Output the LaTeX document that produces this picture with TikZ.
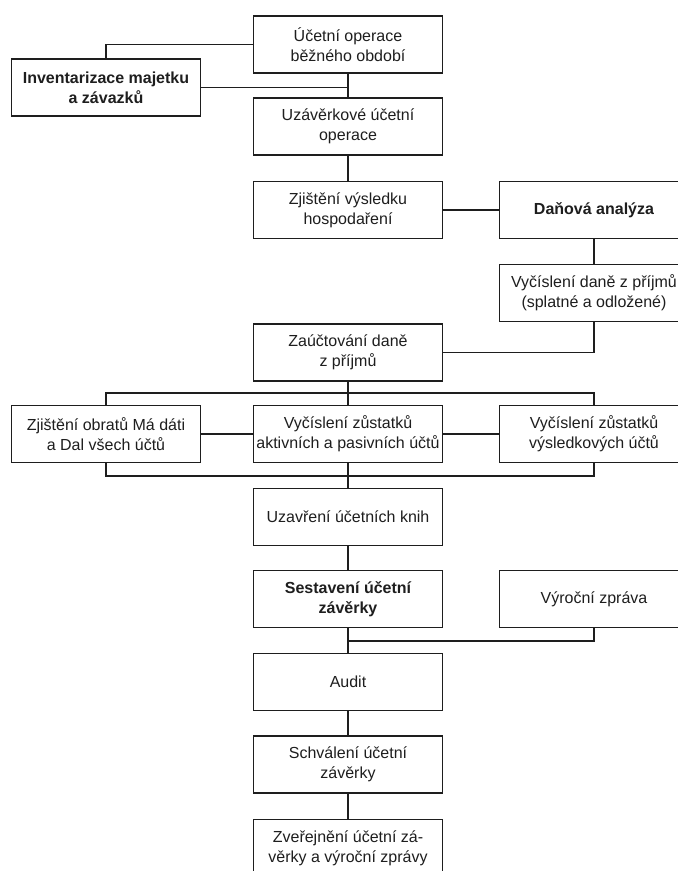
\documentclass[tikz,border=0pt]{standalone}
\usepackage{fontspec}
\setmainfont{Liberation Sans}
\definecolor{ink}{HTML}{1E1E1E}
\begin{document}
\begin{tikzpicture}[x=1pt,y=-1pt,
  box/.style={draw=ink,line width=1.2pt,minimum width=189pt,minimum height=57pt,inner sep=0pt,
    align=center,text=ink,font=\fontsize{16}{20}\selectfont},
  bbox/.style={box,font=\fontsize{16}{20}\selectfont\bfseries},
  conn/.style={draw=ink,line width=1.2pt}]
\useasboundingbox (0,0) rectangle (678,871);
\clip (0,0) rectangle (678,871);
\fill[white] (0,0) rectangle (678,871);
\node[box]  (A) at (348,44.5) {Účetní operace\\běžného období};
\node[bbox] (Inv) at (106,87.5) {Inventarizace majetku\\a závazků};
\node[box]  (B) at (348,126.5) {Uzávěrkové účetní\\operace};
\node[box]  (C) at (348,210) {Zjištění výsledku\\hospodaření};
\node[bbox] (D) at (594,210) {Daňová analýza};
\node[box]  (E) at (594,293) {Vyčíslení daně z příjmů\\(splatné a odložené)};
\node[box]  (F) at (348,352.5) {Zaúčtování daně\\z příjmů};
\node[box]  (G) at (106,434) {Zjištění obratů Má dáti\\a Dal všech účtů};
\node[box]  (H) at (348,434) {Vyčíslení zůstatků\\aktivních a pasivních účtů};
\node[box]  (I) at (594,434) {Vyčíslení zůstatků\\výsledkových účtů};
\node[box]  (J) at (348,517) {Uzavření účetních knih};
\node[bbox] (K) at (348,599) {Sestavení účetní\\závěrky};
\node[box]  (L) at (594,599) {Výroční zpráva};
\node[box]  (M) at (348,682) {Audit};
\node[box]  (N) at (348,764.5) {Schválení účetní\\závěrky};
\node[box]  (O) at (348,848) {Zveřejnění účetní zá-\\věrky a výroční zprávy};
\coordinate (tb) at (348,393);
\coordinate (bb) at (348,476);
\coordinate (lj) at (348,641);
\draw[conn] (Inv.north) |- (A.west);
\draw[conn] (Inv.east) -- (Inv.east -| A.south);
\draw[conn] (A.south) -- (B.north);
\draw[conn] (B.south) -- (C.north);
\draw[conn] (C.east) -- (D.west);
\draw[conn] (D.south) -- (E.north);
\draw[conn] (E.south) |- (F.east);
\draw[conn] (F.south) -- (H.north);
\draw[conn] (G.north) |- (tb) -| (I.north);
\draw[conn] (G.east) -- (H.west);
\draw[conn] (H.east) -- (I.west);
\draw[conn] (G.south) |- (bb) -| (I.south);
\draw[conn] (H.south) -- (J.north);
\draw[conn] (J.south) -- (K.north);
\draw[conn] (L.south) |- (lj);
\draw[conn] (K.south) -- (M.north);
\draw[conn] (M.south) -- (N.north);
\draw[conn] (N.south) -- (O.north);
\end{tikzpicture}
\end{document}
